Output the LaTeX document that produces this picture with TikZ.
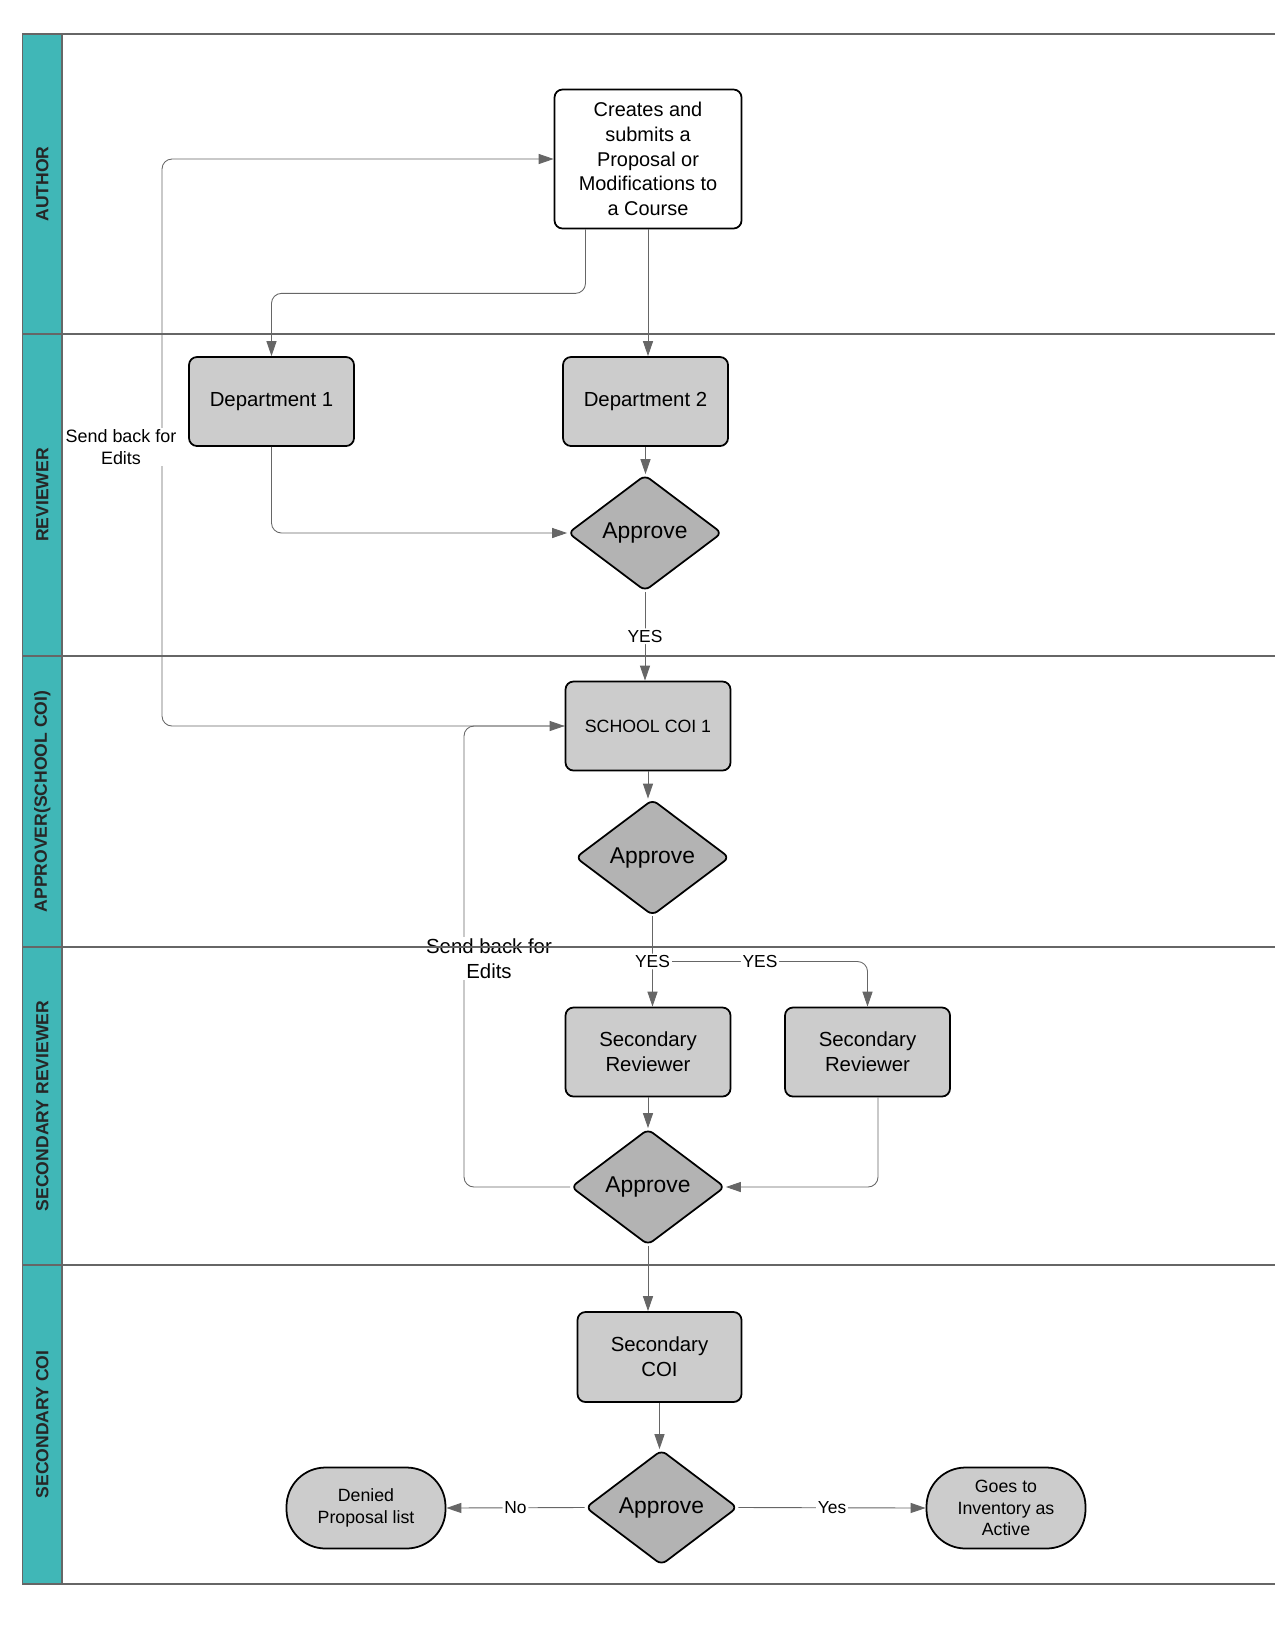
\documentclass[tikz,border=0pt]{standalone}
\usepackage{fontspec}
\setmainfont{Liberation Sans}
\usetikzlibrary{shapes.geometric,arrows.meta}

\definecolor{lanecol}{RGB}{64,183,183}
\definecolor{boxgray}{RGB}{204,204,204}
\definecolor{dmdgray}{RGB}{179,179,179}
\definecolor{linegray}{RGB}{102,102,102}

\begin{document}
\begin{tikzpicture}
        \tikzstyle{box} = [draw=black, line width=1pt, fill=boxgray, rounded corners=0.16cm, minimum width=3.3cm, minimum height=1.78cm, align=center, font=\fontsize{11.6pt}{14.1pt}\selectfont]
        \tikzstyle{decide} = [diamond, draw=black, line width=1pt, fill=dmdgray, rounded corners=0.12cm, minimum width=3.08cm, minimum height=2.32cm, inner sep=0pt, font=\fontsize{13pt}{15pt}\selectfont]
        \tikzstyle{term} = [box, rounded corners=0.78cm, minimum width=3.18cm, minimum height=1.62cm, font=\fontsize{10.1pt}{12.4pt}\selectfont]
        \tikzstyle{conn} = [draw=linegray, line width=0.5pt, rounded corners=0.2cm, -{Triangle[length=8.5pt,width=5.7pt]}]
        \tikzstyle{lbl} = [fill=white, inner sep=1pt, font=\fontsize{9.9pt}{12pt}\selectfont]
        \tikzstyle{lanename} = [rotate=90, text=black!85, font=\bfseries\fontsize{10pt}{12pt}\selectfont]

        \useasboundingbox (0,0) rectangle (25.5,-32.5);

        \fill[lanecol] (0.45,-0.68) rectangle (1.24,-31.68);
        \node[lanename] (author) at (0.845,-3.68) {AUTHOR};
        \node[lanename] (reviewer) at (0.845,-9.9) {REVIEWER};
        \node[lanename] (approver) at (0.845,-16.03) {APPROVER(SCHOOL COI)};
        \node[lanename] (secreviewer) at (0.845,-22.12) {SECONDARY REVIEWER};
        \node[lanename] (seccoilane) at (0.845,-28.49) {SECONDARY COI};


        \node[box, fill=white, minimum width=3.74cm, minimum height=2.78cm, font=\fontsize{11.34pt}{14.1pt}\selectfont] (create) at (12.96,-3.18) {Creates and\\submits a\\Proposal or\\Modifications to\\a Course};
        \node[box] (dept1) at (5.43,-8.03) {Department 1};
        \node[box] (dept2) at (12.91,-8.03) {Department 2};
        \node[decide] (appr1) at (12.9,-10.66) {Approve};
        \node[box, font=\fontsize{10.1pt}{12pt}\selectfont] (coi1) at (12.96,-14.52) {SCHOOL COI 1};
        \node[decide] (appr2) at (13.05,-17.15) {Approve};
        \node[box] (secrev1) at (12.96,-21.04) {Secondary\\Reviewer};
        \node[box] (secrev2) at (17.35,-21.04) {Secondary\\Reviewer};
        \node[decide] (appr3) at (12.96,-23.74) {Approve};
        \node[box, minimum width=3.28cm, minimum height=1.8cm] (seccoi) at (13.19,-27.14) {Secondary\\COI};
        \node[decide, minimum width=3.04cm, minimum height=2.3cm] (appr4) at (13.23,-30.15) {Approve};
        \node[term] (denied) at (7.32,-30.16) {Denied\\Proposal list};
        \node[term] (active) at (20.12,-30.16) {Goes to\\Inventory as\\Active};

        \coordinate (back1) at (3.24,-14.52);
        \coordinate (back2) at (9.28,-23.74);


        \draw[conn] ([xshift=-1.25cm]create.south) -- ++(0,-1.28) -| (dept1.north);
        \draw[conn] (create.south) -- (create.south |- dept2.north);
        \draw[conn] (dept2.south) -- (dept2.south |- appr1.north);
        \draw[conn] (dept1.south) |- (appr1.west);
        \draw[conn] (appr1.south) -- node[lbl]{YES} (appr1.south |- coi1.north);
        \draw[conn] (coi1.south) -- (coi1.south |- appr2.north);
        \draw[conn] (appr2.south) -- node[lbl] (yes1) {YES} (appr2.south |- secrev1.north);
        \draw[conn] (yes1.east) -| node[lbl, pos=0.225]{YES} (secrev2.north);
        \draw[conn] (secrev1.south) -- (secrev1.south |- appr3.north);
        \draw[conn] ([xshift=0.21cm]secrev2.south) |- (appr3.east);
        \draw[conn] (appr3.west) -- (back2) |- (coi1.west);
        \draw[conn] (coi1.west) -- (back1) |- (create.west);
        \draw[conn] (appr3.south) -- (appr3.south |- seccoi.north);
        \draw[conn] (seccoi.south) -- (seccoi.south |- appr4.north);
        \draw[conn] (appr4.west) -- node[lbl]{No} (denied.east);
        \draw[conn] (appr4.east) -- node[lbl]{Yes} (active.west);

        \node[lbl, align=center, font=\fontsize{10.2pt}{12.4pt}\selectfont] (sendback1) at (2.42,-8.94) {Send back for\\Edits};
        \node[lbl, align=center, font=\fontsize{11.6pt}{14.1pt}\selectfont] (sendback2) at (9.78,-19.17) {Send back for\\Edits};

        %\draw[linegray] (25.5,-0.68) -- (25.5,-31.68);
        \draw[linegray, line width=0.85pt] (0.45,-0.68) rectangle (1.24,-31.68)
                (1.24,-0.68) -- (25.5,-0.68) (0.45,-6.68) -- (25.5,-6.68) (0.45,-13.12) -- (25.5,-13.12)
                (0.45,-18.94) -- (25.5,-18.94) (0.45,-25.30) -- (25.5,-25.30) (1.24,-31.68) -- (25.5,-31.68);

    \end{tikzpicture}
\end{document}
